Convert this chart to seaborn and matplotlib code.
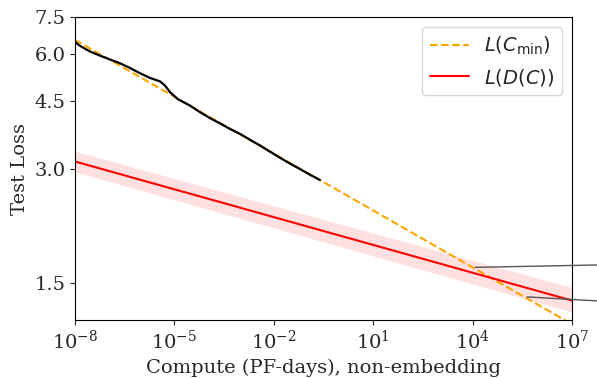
import numpy as np
import matplotlib
matplotlib.use("Agg")
import matplotlib.pyplot as plt
from matplotlib.patches import ConnectionPatch
from matplotlib.ticker import NullLocator
import seaborn as sns

frontier_c = [1e-8, 10**-7.85, 10**-7.55, 10**-7.25, 10**-6.94, 10**-6.64, 10**-6.34,
              10**-6.04, 10**-5.74, 10**-5.43, 10**-5.28, 10**-5.13, 10**-4.89, 10**-4.53,
              10**-4.23, 10**-3.93, 10**-3.62, 10**-3.32, 10**-3.02, 10**-2.72, 10**-2.42,
              10**-2.11, 10**-1.81, 10**-1.51, 10**-1.21, 10**-0.91, 10**-0.61]
frontier_loss = [6.45, 6.30, 6.09, 5.94, 5.80, 5.67, 5.51,
                 5.34, 5.19, 5.08, 4.95, 4.76, 4.56, 4.39,
                 4.22, 4.07, 3.94, 3.81, 3.70, 3.57, 3.45,
                 3.32, 3.20, 3.09, 2.99, 2.89, 2.80]

# power-law fits (straight lines on log-log axes)
fit_c = [1e-8, 1e7]
lc_min = [6.53, 1.17]
ld_c = [3.13, 1.35]
ld_c_low = [2.94, 1.26]
ld_c_high = [3.33, 1.46]

# zoom connector anchors (data) and their ends at the figure edge (figure fraction)
conn_c = [1.2e4, 4.5e5]
conn_loss = [1.65, 1.38]
conn_fig_y = [0.299, 0.204]

sns.set_style("ticks")
plt.rcParams['font.family'] = ['DejaVu Serif']
plt.rcParams['mathtext.fontset'] = 'dejavusans'

fig = plt.figure(figsize=(5.97, 3.78), dpi=100)
ax = fig.add_axes([0.1256, 0.1534, 0.8325, 0.8016])

ax.fill_between(fit_c, ld_c_low, ld_c_high, color='red', alpha=0.12, linewidth=0)
sns.lineplot(x=fit_c, y=lc_min, ax=ax, color='orange', linestyle='--', linewidth=1.5,
             label=r'$L(C_{\rm min})$')
sns.lineplot(x=fit_c, y=ld_c, ax=ax, color='red', linewidth=1.5, label=r'$L(D(C))$')
sns.lineplot(x=frontier_c, y=frontier_loss, ax=ax, color='black', linewidth=1.6)

ax.set_xscale('log')
ax.set_yscale('log')
ax.set_xlim(1e-8, 1e7)
ax.set_ylim(1.2, 7.5)
ax.set_xticks([1e-8, 1e-5, 1e-2, 1e1, 1e4, 1e7])
ax.set_yticks([1.5, 3.0, 4.5, 6.0, 7.5])
ax.set_yticklabels(['1.5', '3.0', '4.5', '6.0', '7.5'])
ax.xaxis.set_minor_locator(NullLocator())
ax.yaxis.set_minor_locator(NullLocator())
ax.tick_params(labelsize=14)
for s in ax.spines.values():
    s.set_color('black')

ax.set_xlabel('Compute (PF-days), non-embedding', fontsize=14)
ax.set_ylabel('Test Loss', fontsize=14)
ax.legend(loc='upper right', fontsize=14)

for c, l, fy in zip(conn_c, conn_loss, conn_fig_y):
    cp = ConnectionPatch(xyA=(c, l), coordsA=ax.transData, xyB=(1.0, fy),
                         coordsB=fig.transFigure, color='#555555', linewidth=1)
    fig.add_artist(cp)

fig.savefig('out.png', dpi=100)
